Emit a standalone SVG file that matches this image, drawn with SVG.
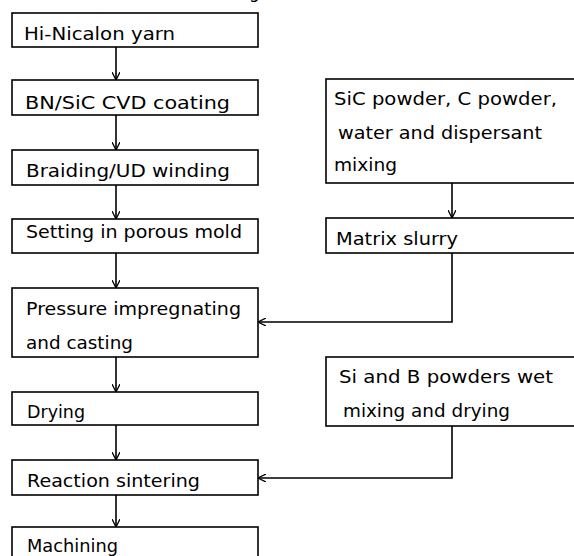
<svg xmlns="http://www.w3.org/2000/svg" width="574" height="556" viewBox="0 0 574 556">
<style>
.box{fill:#fff;stroke:#000;stroke-width:1.6}
.t{font-family:"DejaVu Sans","Liberation Sans",sans-serif;font-size:17px;fill:#000}
.c{fill:none;stroke:#000;stroke-width:1.6}
</style>
<defs>
<marker id="ah" viewBox="0 0 10 10" refX="10" refY="5" markerWidth="8" markerHeight="8" markerUnits="userSpaceOnUse" orient="auto">
<path d="M0,0 L10,5 L0,10" fill="none" stroke="#000" stroke-width="1.6"/>
</marker>
</defs>
<rect width="574" height="556" fill="#fff"/>
<text class="t" x="249" y="-2" font-size="20">g</text>
<g id="n1"><rect class="box" x="12" y="13" width="246" height="34"/><text class="t" x="24" y="40" textLength="151" lengthAdjust="spacingAndGlyphs">Hi-Nicalon yarn</text></g>
<g id="n2"><rect class="box" x="12" y="80" width="246" height="35"/><text class="t" x="25" y="109" textLength="205" lengthAdjust="spacingAndGlyphs">BN/SiC CVD coating</text></g>
<g id="n3"><rect class="box" x="12" y="150" width="246" height="35"/><text class="t" x="26" y="177" textLength="204" lengthAdjust="spacingAndGlyphs">Braiding/UD winding</text></g>
<g id="n4"><rect class="box" x="12" y="219" width="246" height="34"/><text class="t" x="26" y="238" textLength="216" lengthAdjust="spacingAndGlyphs">Setting in porous mold</text></g>
<g id="n5"><rect class="box" x="12" y="288" width="246" height="69"/><text class="t" x="26" y="315" textLength="215" lengthAdjust="spacingAndGlyphs">Pressure impregnating</text><text class="t" x="26" y="349" textLength="107" lengthAdjust="spacingAndGlyphs">and casting</text></g>
<g id="n6"><rect class="box" x="12" y="392" width="246" height="33"/><text class="t" x="27" y="418" textLength="58" lengthAdjust="spacingAndGlyphs">Drying</text></g>
<g id="n7"><rect class="box" x="12" y="460" width="246" height="35"/><text class="t" x="27" y="487" textLength="173" lengthAdjust="spacingAndGlyphs">Reaction sintering</text></g>
<g id="n8"><rect class="box" x="12" y="527" width="246" height="60"/><text class="t" x="27" y="552" textLength="91" lengthAdjust="spacingAndGlyphs">Machining</text></g>
<g id="n9"><rect class="box" x="326" y="79" width="300" height="104"/><text class="t" x="334" y="105" textLength="223" lengthAdjust="spacingAndGlyphs">SiC powder, C powder,</text><text class="t" x="338" y="139" textLength="204" lengthAdjust="spacingAndGlyphs">water and dispersant</text><text class="t" x="334" y="171" textLength="63" lengthAdjust="spacingAndGlyphs">mixing</text></g>
<g id="n10"><rect class="box" x="326" y="218" width="300" height="35"/><text class="t" x="336" y="245" textLength="122" lengthAdjust="spacingAndGlyphs">Matrix slurry</text></g>
<g id="n11"><rect class="box" x="326" y="357" width="300" height="69"/><text class="t" x="339" y="383" textLength="214" lengthAdjust="spacingAndGlyphs">Si and B powders wet</text><text class="t" x="343" y="417" textLength="167" lengthAdjust="spacingAndGlyphs">mixing and drying</text></g>
<g id="connectors">
<line class="c" x1="116" y1="47" x2="116" y2="80" marker-end="url(#ah)"/>
<line class="c" x1="116" y1="115" x2="116" y2="150" marker-end="url(#ah)"/>
<line class="c" x1="116" y1="185" x2="116" y2="219" marker-end="url(#ah)"/>
<line class="c" x1="116" y1="253" x2="116" y2="288" marker-end="url(#ah)"/>
<line class="c" x1="116" y1="357" x2="116" y2="392" marker-end="url(#ah)"/>
<line class="c" x1="116" y1="425" x2="116" y2="460" marker-end="url(#ah)"/>
<line class="c" x1="116" y1="495" x2="116" y2="527" marker-end="url(#ah)"/>
<line class="c" x1="452" y1="183" x2="452" y2="218" marker-end="url(#ah)"/>
<polyline class="c" points="452,253 452,322 258,322" marker-end="url(#ah)"/>
<polyline class="c" points="452,426 452,478 258,478" marker-end="url(#ah)"/>
</g>
</svg>
